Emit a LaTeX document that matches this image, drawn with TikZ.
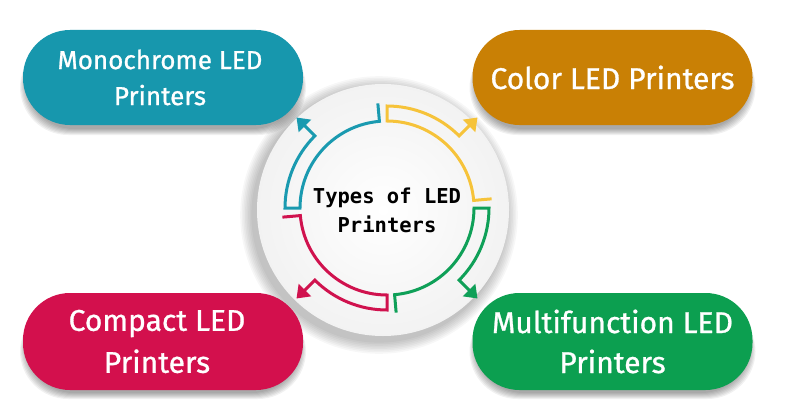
\documentclass[tikz,border=0pt]{standalone}
\usepackage{fontspec}
\setmainfont{Fira Sans}[FakeBold=0.9]
\newfontfamily\monofont{DejaVu Sans Mono}
\usetikzlibrary{calc,arrows.meta}
\definecolor{cTeal}{HTML}{1797AD}
\definecolor{cOrange}{HTML}{C98005}
\definecolor{cRed}{HTML}{D3104D}
\definecolor{cGreen}{HTML}{0C9F50}
\definecolor{aTeal}{HTML}{1A9AB0}
\definecolor{aYellow}{HTML}{F6C33A}
\definecolor{aRed}{HTML}{D0124E}
\definecolor{aGreen}{HTML}{0FA058}
\tikzset{
  pill/.style={rounded corners=47pt, minimum width=280pt, minimum height=95pt,
    inner sep=0pt, text=white, align=center},
  pillshade/.style={rounded corners=48pt, minimum height=95pt, inner sep=0pt,
    fill=black, fill opacity=0.055},
  ringline/.style={line width=3pt, line join=miter, line cap=butt},
}
\newcommand\ringseg[4]{%
  \draw[ringline, #1, -{Triangle[length=12pt,width=17pt]}]
    ($(C)+(#3:105)$) -- ($(C)+(#3:87)$)
    arc[start angle=#3, end angle=#2, radius=87]
    -- ($(C)+(#2:102)$)
    arc[start angle=#2, end angle=#4, radius=102]
    -- ($(C)+(#4:128)$);
}
\newcommand\pillshadow[2]{%
  \foreach \k in {1,...,7}{
    \node[pillshade, minimum width={(272+2*\k)*1pt}] at (#1,{#2-3-\k}) {};
  }
}
\begin{document}
\begin{tikzpicture}[x=1pt,y=1pt]
\useasboundingbox (0,0) rectangle (800,400);
\fill[white] (0,0) rectangle (800,400);
% central disc with soft shadow
\coordinate (D) at (383,190);
\foreach \k in {1,...,8}{
  \fill[black, opacity=0.03] ($(D)+(-4,-5)$) circle ({126+1.6*\k});
}
\shade[inner color=white, outer color=gray!10] (D) circle (126);
% ring segments
\coordinate (C) at (387,192);
\ringseg{aTeal}{180}{95}{135}
\ringseg{aYellow}{90}{5}{45}
\ringseg{aGreen}{0}{-85}{-45}
\ringseg{aRed}{270}{185}{225}
\node[font=\monofont\bfseries\fontsize{20.5}{29}\selectfont, align=center]
  (title) at (387,190) {Types of LED\\Printers};
% pills
\pillshadow{163}{322.5}
\pillshadow{612.5}{322.5}
\pillshadow{163}{58.5}
\pillshadow{612.5}{58.5}
\node[pill, fill=cTeal, font=\fontsize{26}{36}\selectfont]
  (mono) at (163,322.5) {Monochrome LED\hspace*{6pt}\\Printers\hspace*{6pt}};
\node[pill, fill=cOrange, font=\fontsize{30}{40}\selectfont]
  (color) at (612.5,322.5) {Color LED Printers};
\node[pill, fill=cRed, minimum height=97pt, font=\fontsize{30}{42}\selectfont]
  (compact) at (163,58.5) {Compact LED\hspace*{12pt}\\Printers\hspace*{12pt}};
\node[pill, fill=cGreen, minimum height=97pt, font=\fontsize{30}{40}\selectfont]
  (multi) at (612.5,58.5) {Multifunction LED\\Printers};
\end{tikzpicture}
\end{document}
